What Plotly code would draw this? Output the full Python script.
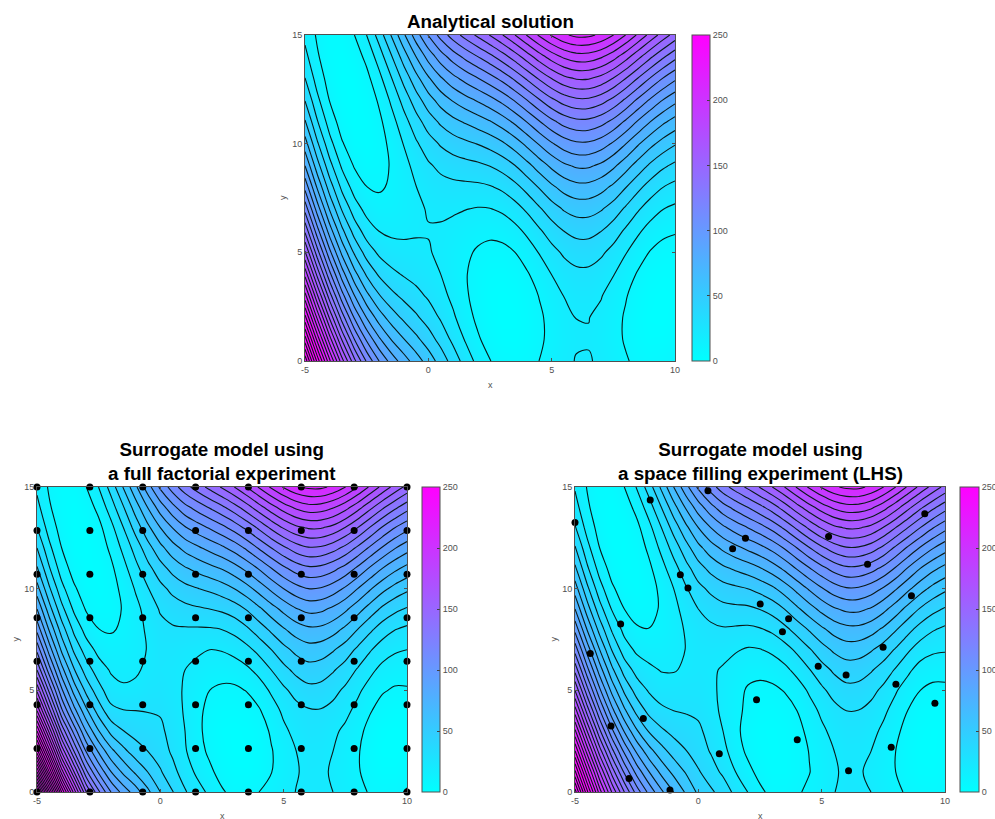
import numpy as np
import plotly.graph_objects as go

x_grid = [-5 + 0.5 * k for k in range(31)]
y_grid = list(range(0, 16))

# z values per x column (x=-5,-4.5,...,10), each listing y=0..15
z_analytic = [
 [308.1,274.7,243.4,214.0,186.6,161.2,137.9,116.5,97.1,79.7,64.4,51.0,39.6,30.2,22.9,17.5],
 [256.9,226.4,197.8,171.3,146.7,124.1,103.6,85.0,68.5,53.9,41.4,30.8,22.3,15.7,11.1,8.6],
 [212.0,184.1,158.3,134.4,112.5,92.7,74.8,58.9,45.1,33.2,23.4,15.5,9.6,5.8,3.9,4.0],
 [174.0,148.7,125.4,104.1,84.8,67.5,52.2,38.8,27.5,18.2,10.9,5.6,2.3,1.0,1.7,4.4],
 [143.0,120.1,99.2,80.4,63.5,48.6,35.7,24.9,16.0,9.1,4.2,1.4,0.5,1.6,4.8,9.9],
 [118.6,98.1,79.5,62.9,48.4,35.8,25.2,16.6,10.1,5.5,2.9,2.4,3.8,7.2,12.6,20.1],
 [100.1,81.7,65.3,50.9,38.5,28.1,19.7,13.3,8.9,6.5,6.1,7.7,11.3,16.9,24.5,34.1],
 [86.0,69.6,55.3,42.9,32.6,24.2,17.9,13.5,11.1,10.8,12.4,16.1,21.7,29.4,39.0,50.7],
 [74.8,60.4,47.9,37.5,29.0,22.6,18.2,15.7,15.3,16.8,20.4,25.9,33.5,43.1,54.6,68.2],
 [65.0,52.4,41.7,33.1,26.4,21.8,19.1,18.5,19.8,23.1,28.5,35.8,45.2,56.5,69.9,85.2],
 [55.6,44.6,35.6,28.6,23.6,20.6,19.6,20.6,23.6,28.6,35.6,44.6,55.6,68.6,83.6,100.6],
 [45.8,36.4,28.9,23.4,20.0,18.5,19.0,21.5,26.1,32.6,41.1,51.7,64.2,78.7,95.2,113.8],
 [35.8,27.7,21.6,17.6,15.5,15.4,17.3,21.3,27.2,35.1,45.0,57.0,70.9,86.8,104.7,124.7],
 [25.9,19.1,14.3,11.5,10.7,11.9,15.1,20.3,27.5,36.7,47.8,61.0,76.2,93.4,112.6,133.8],
 [17.1,11.4,7.8,6.1,6.4,8.8,13.1,19.4,27.8,38.1,50.4,64.8,81.1,99.4,119.8,142.1],
 [10.3,5.6,3.0,2.3,3.7,7.0,12.4,19.7,29.1,40.4,53.7,69.1,86.4,105.8,127.1,150.5],
 [6.2,2.4,0.6,0.9,3.1,7.3,13.5,21.8,32.0,44.2,58.4,74.7,92.9,113.1,135.3,159.6],
 [5.1,2.0,1.0,2.0,5.0,9.9,16.9,25.9,36.9,49.8,64.8,81.8,100.7,121.7,144.7,169.7],
 [6.6,4.2,3.8,5.4,9.0,14.6,22.2,31.8,43.4,57.0,72.6,90.2,109.8,131.4,155.0,180.6],
 [10.1,8.2,8.3,10.4,14.5,20.6,28.7,38.7,50.8,64.9,81.0,99.1,119.2,141.3,165.4,191.5],
 [14.3,12.8,13.2,15.7,20.2,26.6,35.1,45.5,58.0,72.4,88.9,107.3,127.8,150.2,174.7,201.1],
 [18.1,16.8,17.5,20.2,24.9,31.6,40.3,51.0,63.7,78.3,95.0,113.7,134.4,157.1,181.8,208.5],
 [20.4,19.2,20.1,22.8,27.6,34.4,43.2,54.0,66.8,81.6,98.4,117.2,138.0,160.8,185.6,212.4],
 [20.6,19.4,20.2,22.9,27.7,34.5,43.3,54.0,66.8,81.6,98.4,117.1,137.9,160.7,185.4,212.2],
 [18.7,17.3,17.9,20.5,25.1,31.7,40.4,51.0,63.6,78.2,94.9,113.5,134.1,156.7,181.3,208.0],
 [15.1,13.4,13.8,16.1,20.5,26.8,35.1,45.5,57.8,72.2,88.5,106.9,127.2,149.5,173.9,200.2],
 [11.0,8.9,8.8,10.7,14.7,20.6,28.5,38.5,50.4,64.3,80.3,98.2,118.1,140.0,164.0,189.9],
 [7.5,4.9,4.3,5.6,9.0,14.4,21.8,31.2,42.6,56.0,71.3,88.7,108.1,129.5,152.9,178.3],
 [5.8,2.5,1.3,2.0,4.7,9.4,16.1,24.9,35.6,48.3,63.0,79.8,98.5,119.2,141.9,166.6],
 [6.9,2.8,0.7,0.6,2.6,6.5,12.4,20.3,30.2,42.1,56.1,72.0,89.9,109.8,131.8,155.7],
 [9.8,5.9,2.9,1.9,2.9,5.9,10.9,17.9,26.9,37.9,50.9,65.9,82.9,101.9,122.9,145.8],
]
z_factorial = [
 [400,340,285,240,200,168,140,117,97,80,64,51,40,30,23,18],
 [322,269,224,186,153,127,104,85,68.5,53.9,41.4,30.8,22.3,15.7,11.1,8.6],
 [250,205,168,138,112,92,74,58,45,33,23,15,10,6,4,4],
 [196,160,130,106,84,66,51,38,27.5,18.2,11.4,6.1,2.5,1,1.7,4.4],
 [150,122,99,79,62,47,35,25,16,9,5,2,1,2,5,10],
 [122,98,78.5,60.4,45.4,33.8,24.7,17,10.1,5.5,3.4,2.9,4.5,7.2,12.8,20.1],
 [100,80,63,47,33,24,19,14,9,6,6,8,12,17,25,34],
 [86,67.6,52.8,40.2,30.4,21.5,17.5,14.5,11.4,10.8,12.7,16.6,22.4,29.9,39.2,50.7],
 [75,58,45,36,30,22.5,18.5,17,16,17,21,27,34,44,55,68],
 [62.2,49.6,39.9,34.1,29.6,25.2,22.2,20.5,21.8,24.3,29.5,37,46.2,57.7,70.6,85.9],
 [50,41,35,32,29,26,24,25,27,31,37,46,57,70,85,102],
 [40.5,33.1,28.3,26.3,24.4,23,22.5,24.5,28.7,34.7,42.8,53.4,65.9,80.4,96.9,115],
 [31,25,21,20,19,19,20,23,29,37,47,59,73,89,107,126],
 [23.9,17.9,14,12.7,12.7,14.3,17.4,21.5,28.9,38.7,49.6,63,78.2,95.2,114.1,134.8],
 [18,12,8,6,7,10,15,20,29,40,52,67,83,101,121,143],
 [11.2,6.2,3.2,2.3,4.4,8,14.1,20.6,30.1,41.8,55.3,70.7,87.9,107.1,127.9,151.2],
 [7,3,1,1,4,8,15,23,33,45,60,76,94,114,136,160],
 [7.2,2.7,1.3,1.9,5.4,10.4,18,27.1,38.2,50.7,66.3,82.8,101.8,122.5,145.5,170.1],
 [10,5,4,5,9,15,23,33,45,58,74,91,111,132,156,181],
 [13.1,9.7,9.3,11.4,15.4,21.5,30,40,52.1,65.7,82.2,99.8,119.9,142,166,191.7],
 [17,15,15,18,22,28,37,47,59,73,90,108,128,151,175,201],
 [20.2,19.3,19.9,22.9,26.5,33.6,42.6,52.7,64.8,79.3,96.3,114.4,135,157.6,182.1,208.5],
 [22,22,23,26,29,37,46,56,68,83,100,118,139,161,186,212],
 [22,21.6,22.7,25.2,29.3,36.5,45,55,67.6,82.2,99.2,117.2,138.3,160.9,185.4,212.2],
 [20,19,20,22,27,33,41,51,64,78,95,113,134,157,181,208],
 [16.7,15.3,15.9,18,22.6,28.1,35.6,45.3,57.8,72,88.4,106.6,127.1,149.6,173.8,200.2],
 [13,11,11,13,17,22,29,38,50,64,80,98,118,140,164,190],
 [9.1,6.2,5.2,6.7,10.8,15.9,22.5,31,42.1,55.7,71.2,88.7,108.3,129.4,152.9,178.5],
 [7,3,1,2,6,11,17,25,35,48,63,80,99,119,142,167],
 [7.5,3.1,0.6,0.6,3.8,8.8,14.4,21.4,30.4,42.5,56.6,72.6,90.7,110.2,132.4,156.5],
 [11,6,3,2,4,9,14,20,28,39,52,67,84,103,124,147],
]
z_lhs = [
 [305,272,241,212,185,160,137,116,97,80,65,52,41,31,24,19],
 [251.9,222.9,195.3,169.3,145,123.1,103.1,85.5,69,54.4,42.2,31.5,23,16.3,11.6,9.3],
 [205,180,155,132,111,92,75,60,46,34,24,16,10,6,4,4],
 [169,145.7,123.4,102.4,83.3,66.7,52.3,39.3,28.5,19.2,11.6,6.1,2.7,1.3,1.8,4.4],
 [140,118,98,79,62,48,36,25,17,10,5,2,1,2,5,10],
 [115.6,96.1,78.5,61.2,46.9,35.9,26.5,18,11.1,6.2,3.2,2.8,4.4,7.4,12.9,20.6],
 [97,80,64,49,37,29,22,16,10.2,7,6,8,12,17,25,35],
 [82,67.1,53.8,41.7,32.3,24.5,19.5,15.5,12,11.1,12.2,16.3,22.3,29.9,40,52],
 [70,57,46,37,30,25,19.3,17.5,16,17,20,26,34,44,56,70],
 [58.5,48.9,40.4,34.6,29.1,25.2,21.5,20.2,21,23.9,29,36.5,46.1,57.6,71.3,86.8],
 [48,41,35,32,28,25,23,23,25,30,37,46,57,70,85,102],
 [41.8,34.6,29.3,26.3,23.5,22,21.5,23.5,27.7,34.2,42.3,52.9,65.4,79.9,96.4,115],
 [36,28,23,20,18,18,19,23,29,37,46,58,72,88,106,126],
 [27.4,20.1,15.1,12.7,12.7,13.3,15.9,20.9,28.5,37.7,48.1,61.6,77.2,94.2,113.2,134.3],
 [20,13,8,6,8,9,13,19,28,38,50,65,82,100,120,142],
 [12.2,6.7,3.8,2.8,4.9,7.5,12.6,19.6,29.2,40.3,53.3,69.3,86.9,106,127.1,150.7],
 [7,3,2,2,4,8,14,22,32,44,58,75,93,113,135,160],
 [6.7,3.2,2.8,3.3,6,10.5,17.5,26.1,37.2,50.2,64.8,82.3,100.9,121.9,145,170.1],
 [9,6,6,7,10,15,23,32,44,58,73,91,110,132,156,181],
 [11.6,9.7,10.3,12.4,15.9,21.5,29.5,39,51.1,65.7,81.3,99.4,119.4,142,166,191.7],
 [15,14,15,18,22,28,36,46,58,73,89,107,128,151,175,201],
 [19.7,18.8,19.9,22.9,27,33.6,41.6,51.7,63.8,78.8,95.3,113.9,135,157.6,182.1,208.5],
 [23,22,23,26,30,37,45,55,67,82,99,118,139,161,186,212],
 [22.6,21.1,22.7,25.7,29.8,36.5,44.5,54.5,67.1,82.2,98.7,117.7,138.8,160.9,185.9,212.2],
 [20,18,20,23,27,33,41,51,64,79,95,114,135,157,182,208],
 [16.2,14.3,15.4,18,22.1,27.7,35.6,45.7,58.3,72.9,88.9,107.5,127.6,149.6,174.2,200.2],
 [12,10,10,12,16,21,29,39,51,65,81,99,118,140,164,190],
 [8.6,5.7,5.2,6.7,9.8,14.9,22,31.5,43.1,56.7,72.1,89.2,108.3,129.9,152.9,178.5],
 [7,3,2,3,5,10,16,25,36,49,64,80,99,120,142,167],
 [6,2.6,1.1,1.1,3.3,7.8,13.4,21.9,30.9,43,57.1,72.6,90.7,110.7,132.4,156.5],
 [8,5,3,2,4,8,13,21,28,39,52,67,84,103,124,147],
]

factorial_x = [-5, -2.857, -0.714, 1.429, 3.571, 5.714, 7.857, 10]
factorial_y = [0, 2.143, 4.286, 6.429, 8.571, 10.714, 12.857, 15]
lhs_x = [-5,-1.95,0.39,9.18,5.28,1.91,1.39,6.86,-0.73,-0.42,8.64,2.51,3.66,3.41,-3.15,
         -4.38,7.49,4.86,5.99,8.01,2.36,9.59,-2.23,-3.54,4.01,7.82,0.85,6.09,-2.81,-1.15]
lhs_y = [13.26,14.36,14.82,13.68,12.57,12.48,11.96,11.2,10.69,10.03,9.65,9.24,8.52,7.88,8.26,
         6.81,7.12,6.18,5.76,5.3,4.54,4.36,3.62,3.24,2.57,2.2,1.88,1.04,0.66,0.1]

titles = ["Analytical solution", "Surrogate model using<br>a full factorial experiment",
          "Surrogate model using<br>a space filling experiment (LHS)"]
x_ticks = [-5, 0, 5, 10]
x_tick_labels = ["-5", "0", "5", "10"]
y_ticks = [0, 5, 10, 15]
cbar_ticks = [0, 50, 100, 150, 200, 250]

W, H = 995, 819
COOL = [[0, "#00ffff"], [1, "#ff00ff"]]
TICK = dict(family="Liberation Sans, Helvetica, Arial", size=9, color="#505050")
panels = [
    dict(z=z_analytic, box=(305, 675, 35, 361), cb=(692, 710), px=None, py=None, ty=21),
    dict(z=z_factorial, box=(37, 407, 487, 792), cb=(422, 440),
         px=[a for a in factorial_x for b in factorial_y], py=[b for a in factorial_x for b in factorial_y], ty=461),
    dict(z=z_lhs, box=(575, 945, 487, 792), cb=(960, 979), px=lhs_x, py=lhs_y, ty=461),
]

fig = go.Figure()
annotations = []
for i, p in enumerate(panels):
    n = "" if i == 0 else str(i + 1)
    x0, x1, y0, y1 = p["box"]
    c0, c1 = p["cb"]
    z = np.array(p["z"]).T
    fig.add_trace(go.Heatmap(x=x_grid, y=y_grid, z=z, zmin=0, zmax=250, zsmooth="best",
        colorscale=COOL, xaxis="x" + n, yaxis="y" + n, hoverinfo="skip",
        colorbar=dict(x=c0 / W, xanchor="left", xpad=0, ypad=0, thickness=c1 - c0, thicknessmode="pixels",
                      y=1 - y1 / H, yanchor="bottom", len=(y1 - y0) / H, lenmode="fraction",
                      tickvals=cbar_ticks, ticks="inside", ticklen=3, tickcolor="#404040", tickwidth=1,
                      tickfont=TICK, outlinecolor="#505050", outlinewidth=1, borderwidth=0)))
    fig.add_trace(go.Contour(x=x_grid, y=y_grid, z=z, showscale=False, xaxis="x" + n, yaxis="y" + n,
        contours=dict(start=10, end=400, size=10, coloring="none"),
        line=dict(color="#0a1a1a", width=1.1, smoothing=1.0), hoverinfo="skip"))
    if p["px"]:
        fig.add_trace(go.Scatter(x=p["px"], y=p["py"], mode="markers", xaxis="x" + n, yaxis="y" + n,
            marker=dict(color="black", size=7), cliponaxis=False, showlegend=False))
    axcommon = dict(showgrid=False, zeroline=False, showline=True, linecolor="#505050", linewidth=1,
                    mirror="ticks", ticks="inside", ticklen=3, tickcolor="#505050", tickfont=TICK)
    fig.update_layout(**{
        "xaxis" + n: dict(domain=[x0 / W, x1 / W], range=[-5, 10], tickvals=x_ticks, ticktext=x_tick_labels,
                          anchor="y" + n, **axcommon),
        "yaxis" + n: dict(domain=[1 - y1 / H, 1 - y0 / H], range=[0, 15], tickvals=y_ticks,
                          anchor="x" + n, **axcommon),
    })
    cx = (x0 + x1) / 2
    annotations += [
        dict(x=cx / W, y=1 - p["ty"] / H, text="<b>%s</b>" % titles[i], xref="paper", yref="paper", showarrow=False,
             xanchor="center", yanchor="middle",
             font=dict(family="Liberation Sans, Helvetica, Arial", size=18.8, color="#000000")),
        dict(x=cx / W, y=1 - (y1 + 24) / H, text="x", xref="paper", yref="paper", showarrow=False,
             xanchor="center", yanchor="middle", font=TICK),
        dict(x=(x0 - 22) / W, y=1 - (y0 + y1) / 2 / H, text="y", xref="paper", yref="paper", showarrow=False,
             xanchor="center", yanchor="middle", textangle=-90, font=TICK),
    ]

fig.update_layout(width=W, height=H, margin=dict(l=0, r=0, t=0, b=0, autoexpand=False), showlegend=False,
                  paper_bgcolor="white", plot_bgcolor="white", annotations=annotations)
fig.write_html("out.html", post_script="document.body.style.margin='0';", config={"displayModeBar": False})
